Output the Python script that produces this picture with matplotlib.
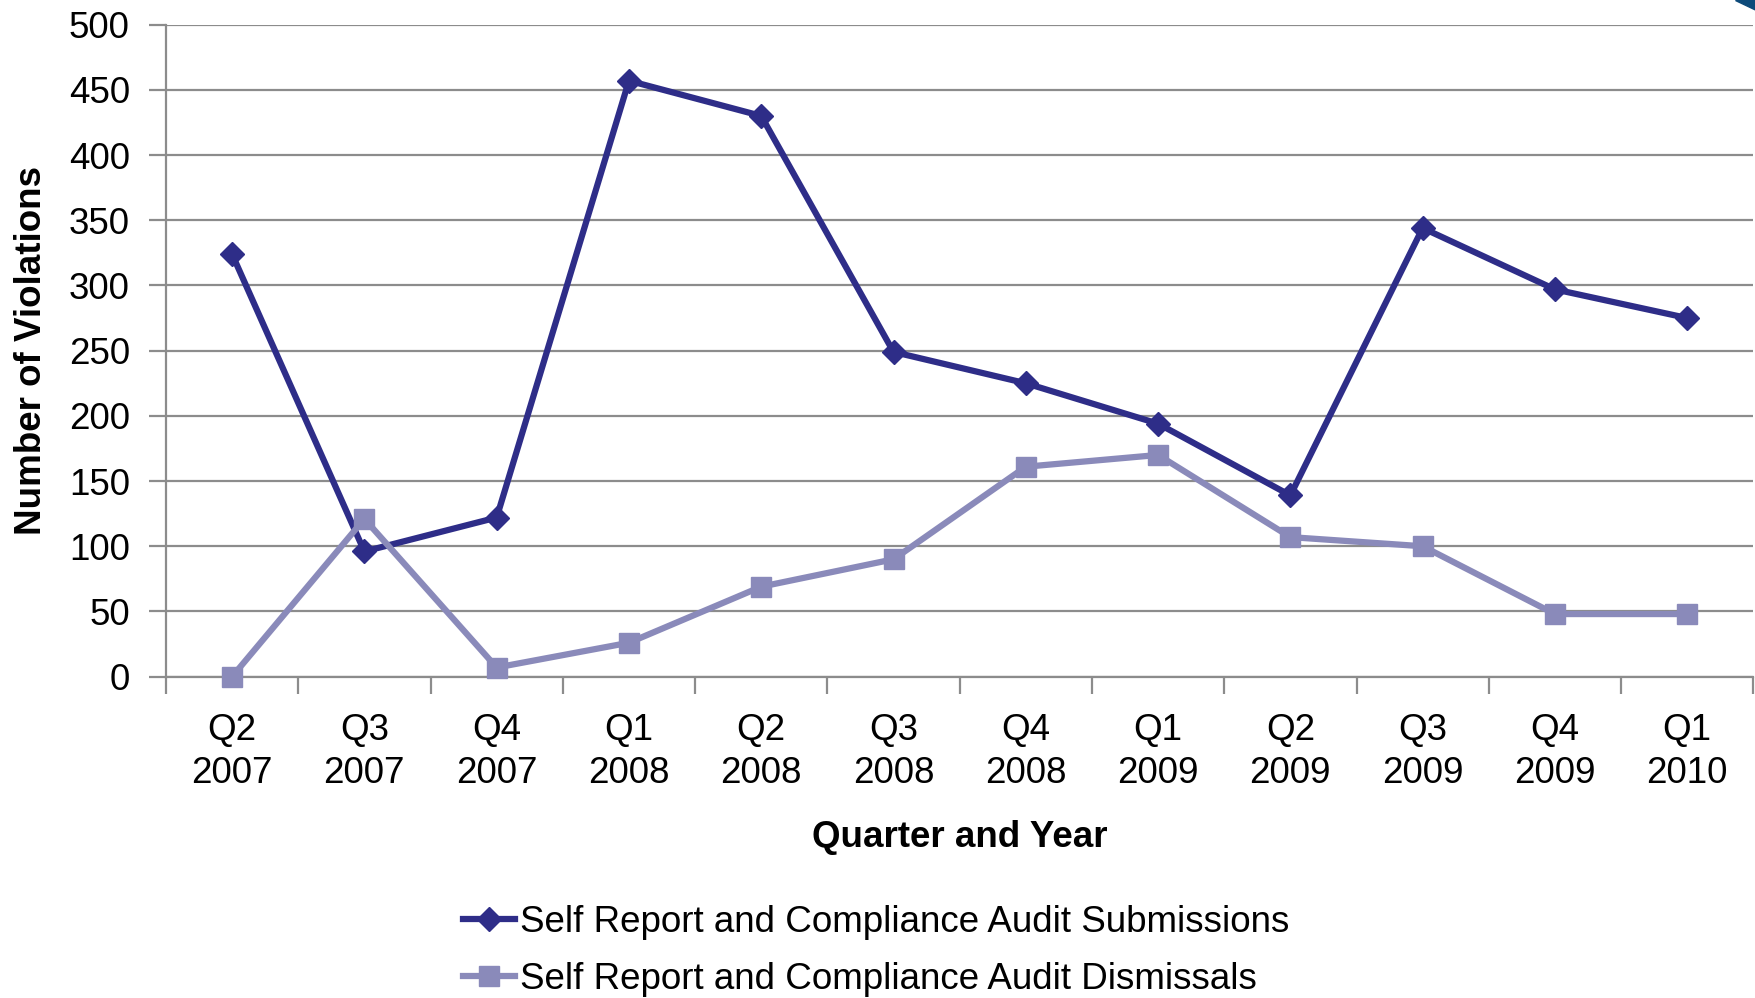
import numpy as np
import matplotlib.pyplot as plt
from matplotlib.patches import Polygon

plt.rcParams['font.family'] = ['Liberation Sans', 'DejaVu Sans']

quarters = ['Q2\n2007', 'Q3\n2007', 'Q4\n2007', 'Q1\n2008', 'Q2\n2008', 'Q3\n2008',
            'Q4\n2008', 'Q1\n2009', 'Q2\n2009', 'Q3\n2009', 'Q4\n2009', 'Q1\n2010']
submissions = [324, 96, 122, 457, 430, 249, 225, 194, 139, 344, 297, 275]
dismissals = [0, 121, 7, 26, 69, 90, 161, 170, 107, 100, 48, 48]

grid_col = '#8c8c8c'
fs = 26.5

fig = plt.figure(figsize=(17.56, 9.98), dpi=100)
ax = fig.add_axes([0.0945, 0.322, 0.904, 0.6533])

x = np.arange(len(quarters))
ax.plot(x, submissions, color='#2e2d88', lw=4.5, marker='D', ms=12.5,
        label='Self Report and Compliance Audit Submissions', zorder=3, clip_on=False)
ax.plot(x, dismissals, color='#8a8aba', lw=4.5, marker='s', ms=14.5,
        label='Self Report and Compliance Audit Dismissals', zorder=4, clip_on=False)

ax.set_xlim(-0.5, len(quarters) - 0.5)
ax.set_ylim(0, 500)
ax.set_yticks(range(0, 501, 50))
ax.yaxis.grid(True, color=grid_col, lw=1.6)
ax.set_axisbelow(True)

# category labels sit between the boundary tick marks
ax.set_xticks(x)
ax.set_xticklabels(quarters, fontsize=fs, linespacing=1.3)
ax.set_xticks(np.arange(-0.5, len(quarters)), minor=True)
ax.tick_params(axis='x', which='major', length=0, pad=26)
ax.tick_params(axis='x', which='minor', length=12, width=1.6, color=grid_col)
ax.tick_params(axis='y', length=12, width=1.6, color=grid_col, labelsize=fs, pad=14)

for s in ['top', 'right']:
    ax.spines[s].set_visible(False)
for s in ['left', 'bottom']:
    ax.spines[s].set_color(grid_col)
    ax.spines[s].set_linewidth(1.6)

ax.set_xlabel('Quarter and Year', fontsize=fs, fontweight='bold', labelpad=21)
ax.set_ylabel('Number of Violations', fontsize=fs, fontweight='bold', labelpad=14)

fig.legend(loc='center left', bbox_to_anchor=(0.2555, 0.047), frameon=False,
           fontsize=fs, handlelength=1.4, handletextpad=0.15, labelspacing=0.6,
           borderaxespad=0)

# corner decoration
fig.patches.append(Polygon([[0.988, 1.0], [1.0, 1.0], [1.0, 0.99]],
                           closed=True, transform=fig.transFigure,
                           color='#0d4a7a'))

fig.savefig('out.png', dpi=100)
